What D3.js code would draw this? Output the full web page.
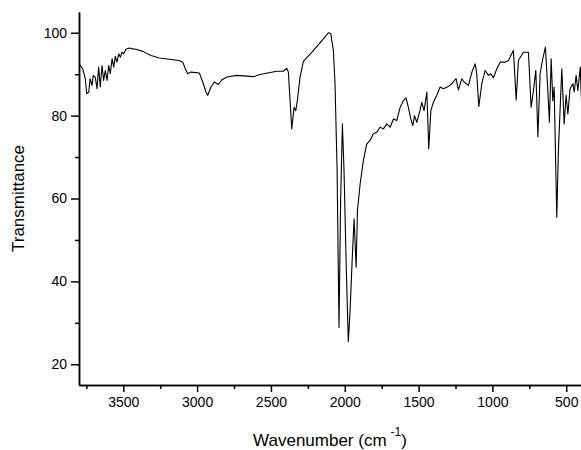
<!DOCTYPE html>
<html>
  <head>
    <meta charset="utf-8">
    <title>IR spectrum</title>
    <script src="https://d3js.org/d3.v7.min.js"></script>
    <style>
      body { margin: 0; background: #fff; }
      #chart { font-family: "Liberation Sans", Arial, sans-serif; }
      .axis path, .axis line { stroke: #000; stroke-width: 1.5; }
      .axis text { font-size: 14px; fill: #000; }
      .plot { fill: none; stroke: #000; stroke-width: 1.1; stroke-linejoin: round; }
      .title { font-size: 17px; fill: #000; }
    </style>
  </head>
  <body>
    <svg id="chart" width="581" height="450"></svg>
    <script>
      // spectrum (cm-1, %T)
      var wavenumber = [
        3800,3775,3757,3748,3734,3725,3712,3703,3690,3678,
        3667,3656,3644,3633,3622,3610,3599,3588,3576,3565,
        3554,3543,3531,3520,3509,3497,3482,3459,3436,3414,
        3368,3312,3256,3188,3120,3097,3080,3064,3041,2985,
        2962,2940,2928,2906,2883,2856,2833,2799,2732,2619,
        2574,2461,2416,2393,2382,2359,2343,2332,2321,2303,
        2280,2213,2145,2111,2095,2077,2066,2052,2039,2028,
        2016,2005,1991,1976,1964,1950,1937,1923,1914,1896,
        1874,1851,1829,1806,1783,1761,1738,1715,1693,1670,
        1648,1625,1603,1585,1569,1553,1539,1528,1512,1494,
        1478,1463,1444,1431,1417,1400,1377,1354,1332,1298,
        1275,1246,1230,1207,1192,1162,1139,1117,1106,1092,
        1072,1049,1027,1011,993,970,948,914,891,858,
        839,824,790,756,738,722,706,692,677,659,
        641,627,614,602,591,582,564,553,530,514,
        501,489,474,455,446,433,421,405,395
      ];
      var transmittance = [
        92.5,91.3,88.9,85.3,85.7,88.9,87.3,89.7,89.3,86.5,
        91.7,86.9,92.1,88.5,90.9,88.5,92.1,90.1,93.7,91.7,
        94.3,92.9,94.9,94.1,95.3,94.9,96.0,96.3,96.1,96.0,
        95.5,94.5,93.9,93.6,93.3,92.9,91.3,90.1,90.5,90.3,
        88.1,85.7,84.9,86.9,88.1,87.5,88.6,89.3,89.7,89.4,
        89.9,90.7,90.7,91.4,90.5,76.8,82.0,81.2,83.6,89.3,
        93.1,95.7,98.5,100,99.8,95.7,87.7,67,28.9,59.5,
        78.0,66.7,45,25.5,33,45,55.1,43.4,57.1,63.5,
        69.2,73.2,74.0,75.6,76.0,77.2,76.8,78.0,77.2,79.2,
        78.8,82.0,83.6,84.3,82.0,79.2,77.6,80.0,78.4,80.8,
        83.2,81.2,85.7,72.0,81.2,83.2,84.9,86.9,86.5,87.0,
        87.7,88.9,86.2,88.9,88.1,87.3,90.5,92.5,90.1,82.2,
        87.7,90.9,89.7,90.1,89.1,91.3,92.9,92.9,93.3,95.7,
        83.8,93.3,95.3,95.3,82.0,86.1,90.9,74.9,90.1,93.7,
        96.5,87.7,78.4,93.7,83.6,86.9,55.5,71.6,91.3,78.0,
        84.9,80.4,86.5,87.7,85.7,89.7,86.0,91.7,82
      ];
      var xMajorTicks = [3500, 3000, 2500, 2000, 1500, 1000, 500];
      var xMinorTicks = [3750, 3250, 2750, 2250, 1750, 1250, 750];
      var yMajorTicks = [20, 40, 60, 80, 100];
      var yMinorTicks = [30, 50, 70, 90];

      // page elements
      var width = 581, height = 450;
      var margin = { top: 12, right: 0, bottom: 65, left: 79 };
      var chart = d3.select("#chart");

      var x = d3.scaleLinear()
        .domain([3800, 400])
        .range([margin.left, width - margin.right]);
      var y = d3.scaleLinear()
        .domain([15, 105])
        .range([height - margin.bottom, margin.top]);

      chart.append("clipPath")
          .attr("id", "clip")
        .append("rect")
          .attr("x", margin.left)
          .attr("y", margin.top)
          .attr("width", width - margin.left - margin.right)
          .attr("height", height - margin.top - margin.bottom);

      var data = wavenumber.map(function(d, i) { return [d, transmittance[i]]; });
      var line = d3.line()
        .x(function(d) { return x(d[0]); })
        .y(function(d) { return y(d[1]); });

      chart.append("path")
        .attr("class", "plot")
        .attr("clip-path", "url(#clip)")
        .attr("d", line(data));

      // axes, major + minor ticks
      var xAxis = d3.axisBottom(x)
        .tickValues(xMajorTicks)
        .tickSizeInner(7)
        .tickSizeOuter(0)
        .tickPadding(5)
        .tickFormat(d3.format("d"));
      var xMinor = d3.axisBottom(x)
        .tickValues(xMinorTicks)
        .tickSizeInner(4)
        .tickSizeOuter(0)
        .tickFormat("");
      var yAxis = d3.axisLeft(y)
        .tickValues(yMajorTicks)
        .tickSizeInner(8)
        .tickSizeOuter(0)
        .tickPadding(4);
      var yMinor = d3.axisLeft(y)
        .tickValues(yMinorTicks)
        .tickSizeInner(4)
        .tickSizeOuter(0)
        .tickFormat("");

      chart.append("g")
        .attr("class", "axis")
        .attr("transform", "translate(0," + (height - margin.bottom) + ")")
        .call(xMinor);
      chart.append("g")
        .attr("class", "axis")
        .attr("transform", "translate(0," + (height - margin.bottom) + ")")
        .call(xAxis);
      chart.append("g")
        .attr("class", "axis")
        .attr("transform", "translate(" + margin.left + ",0)")
        .call(yMinor);
      chart.append("g")
        .attr("class", "axis")
        .attr("transform", "translate(" + margin.left + ",0)")
        .call(yAxis);
      chart.selectAll(".axis text").style("font-family", "'Liberation Sans', Arial, sans-serif");

      // axis titles
      chart.append("text")
        .attr("class", "title")
        .attr("transform", "translate(24," + ((margin.top + height - margin.bottom) / 2) + ") rotate(-90)")
        .attr("text-anchor", "middle")
        .text("Transmittance");

      var xTitle = chart.append("text")
        .attr("class", "title")
        .attr("x", (margin.left + width - margin.right) / 2)
        .attr("y", 446)
        .attr("text-anchor", "middle");
      xTitle.append("tspan").text("Wavenumber (cm");
      xTitle.append("tspan")
        .attr("dx", 4)
        .attr("dy", -10)
        .style("font-size", "12px")
        .text("-1");
      xTitle.append("tspan")
        .attr("dy", 10)
        .text(")");
    </script>
  </body>
</html>
